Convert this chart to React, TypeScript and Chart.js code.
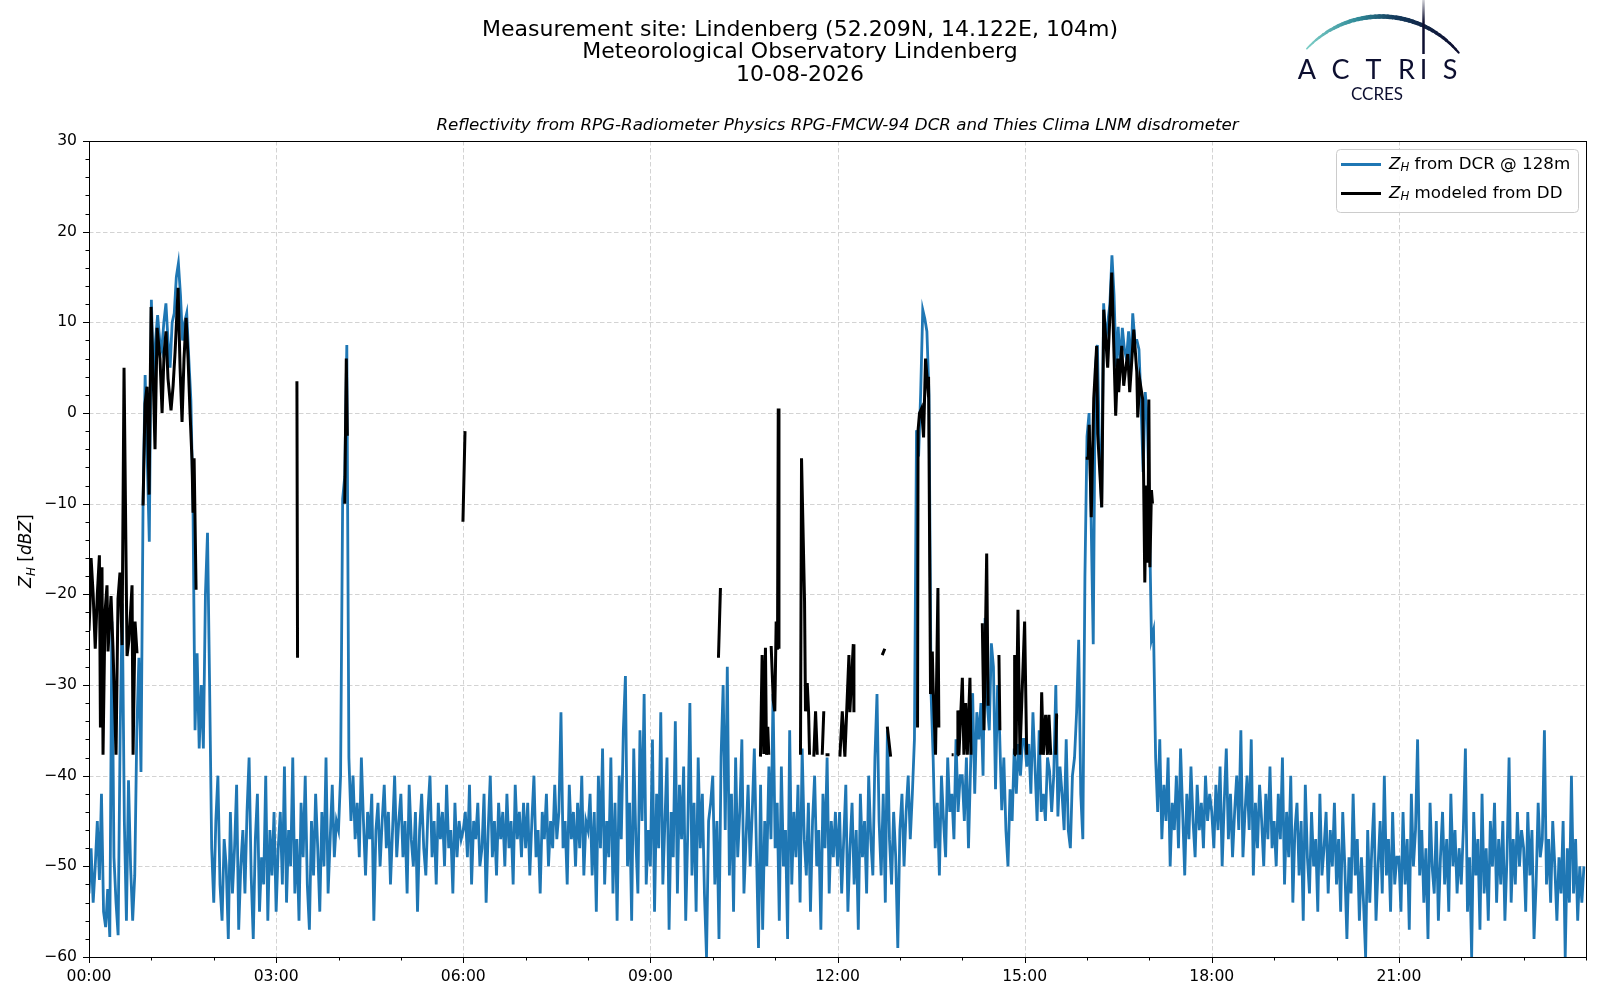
import { useEffect, useRef } from 'react';
import { Chart, registerables } from 'chart.js';

Chart.register(...registerables);

// ---- DATA ----
const titleLines = [
  'Measurement site: Lindenberg (52.209N, 14.122E, 104m)',
  'Meteorological Observatory Lindenberg',
  '10-08-2026',
];
const subTitle = 'Reflectivity from RPG-Radiometer Physics RPG-FMCW-94 DCR and Thies Clima LNM disdrometer';

// DCR reflectivity, one value every 2 minutes from 00:00 (30 values per hour)
const dcrStepMinutes = 2;
const dcrZh: number[] = [
  -53, -48, -54, -50, -45, -51.5, -42, -55, -56.7, -52.5, -57.8, -23, -49, -54, -57.6, -35, -21, -45, -56, -40.5, -50, -56, -51, -35, -27, -39.6, -10, 4.2, -5, -14.2, // 00h
  12.5, 3, 8, 10.8, 8, 7, 10, 12.1, 8, 5, 10, 11, 15, 16.5, 13, 8, 10, 11, 6, 1.4, -10, -35, -26.5, -37, -30, -37, -20, -13.2, -30, -48, // 01h
  -54, -45, -40, -52, -56, -47, -50, -58, -44, -53, -48, -41, -57, -50, -46, -53, -44, -38, -51, -58, -47, -42, -55, -49, -52, -40, -56, -46, -51, -44, // 02h
  -55, -48, -44, -52, -39, -54, -46, -50, -38, -53, -47, -56, -43, -49, -40, -52, -57, -45, -51, -42, -48, -55, -44, -50, -38, -53, -47, -41, -49, -45, // 03h
  -46, -40, -9.5, -7, 7.5, -38, -45, -40, -47, -43, -49, -38, -45, -51, -44, -47, -42, -56, -46, -43, -50, -45, -41, -48, -44, -52, -46, -40, -49, -45, // 04h
  -42, -49, -45, -53, -41, -47, -50, -44, -55, -46, -42, -48, -51, -44, -40, -49, -45, -52, -43, -47, -44, -50, -41, -48, -46, -53, -43, -49, -45, -47, // 05h
  -46, -44, -49, -41, -52, -45, -47, -43, -50, -48, -42, -54, -46, -40, -49, -45, -51, -43, -47, -44, -50, -42, -48, -45, -52, -41, -47, -44, -49, -43, // 06h
  -48, -43, -51, -45, -40, -49, -46, -53, -44, -47, -42, -50, -45, -48, -41, -47, -44, -33, -48, -45, -52, -41, -47, -44, -50, -43, -48, -40, -51, -45, // 07h
  -46, -42, -51, -44, -55, -40, -48, -37, -52, -45, -49, -38, -53, -43, -56, -40, -47, -35, -29, -50, -43, -56, -37, -47, -53, -35, -45, -31, -52, -46, // 08h
  -50, -36, -55, -42, -48, -33, -52, -45, -38, -57, -44, -49, -34, -53, -41, -47, -39, -56, -46, -32, -51, -43, -55, -38, -48, -42, -53, -60, -45, -43, // 09h
  -40, -52, -45, -58, -38, -30, -46, -28, -51, -42, -55, -38, -49, -44, -36, -53, -47, -41, -50, -44, -37, -48, -59, -41, -57, -45, -50, -39, -47, -31, // 10h
  -48, -43, -56, -39, -50, -46, -58, -35, -52, -44, -49, -41, -54, -37, -47, -51, -43, -55, -45, -40, -50, -46, -57, -42, -48, -38, -53, -45, -49, -44, // 11h
  -50, -44, -53, -47, -41, -55, -48, -43, -52, -46, -57, -42, -49, -45, -53, -40, -47, -51, -38, -31, -45, -51, -42, -54, -35, -47, -52, -44, -49, -59, // 12h
  -46, -42, -50, -44, -40, -47, -42, -36, -1.9, -4.8, 2.2, 11.4, 10.4, 9, 2, -30.9, -38, -48, -43, -51, -40, -45, -49, -38, -44, -42, -47, -36, -44, -40, // 13h
  -40, -45, -38, -48, -39, -30.9, -42, -33, -36, -32, -40, -22.6, -32, -35, -25.4, -28, -41.5, -30, -35.5, -43.8, -38, -46, -50, -41.5, -45, -37, -42, -36.5, -40, -36, // 14h
  -36, -39, -36.5, -42, -33, -39, -45, -35, -44, -42, -45, -38, -39.5, -44, -40, -30, -44.5, -39, -42, -46, -36, -46, -48, -40, -38, -33, -25, -42, -47, -18, // 15h
  -2.6, 0, -12, -25.5, 5, 7.5, -4, -10.4, 12.1, 8, 10, 12, 17.4, 13, 5.1, 9.5, 5, 9.4, 7, 6, 9, 4.5, 11, 8, 8, 7, 1, -6.5, 2.3, -0.5, // 16h
  -11.3, -25, -24, -38, -44, -36, -47, -41, -45, -38, -50, -43, -46, -40, -48, -37, -44, -51, -42, -47, -39, -45, -49, -41, -46, -43, -48, -40, -45, -42, // 17h
  -44, -48, -41, -46, -39, -50, -43, -37, -47, -42, -49, -44, -40, -46, -35, -49, -44, -40, -46, -36, -51, -43, -48, -41, -45, -50, -42, -47, -39, -48, // 18h
  -45, -50, -42, -47, -38, -52, -44, -49, -40, -54, -46, -43, -51, -45, -56, -41, -49, -53, -44, -50, -47, -55, -42, -51, -48, -44, -53, -46, -50, -43, // 19h
  -52, -47, -55, -44, -50, -58, -49, -53, -42, -51, -47, -56, -49, -54, -60, -46, -54, -48, -43, -56, -50, -45, -53, -40, -51, -47, -55, -44, -52, -49, // 20h
  -49, -55, -44, -52, -47, -57, -42, -50, -46, -36, -51, -46, -54, -48, -58, -43, -50, -53, -45, -56, -49, -44, -52, -47, -55, -42, -50, -46, -53, -48, // 21h
  -52, -46, -37, -55, -49, -60, -44, -51, -47, -57, -42, -53, -48, -56, -45, -50, -43, -54, -47, -52, -45, -56, -49, -38, -54, -47, -52, -44, -50, -46, // 22h
  -48, -55, -44, -51, -46, -58, -52, -43, -49, -47, -35, -52, -47, -54, -45, -50, -56, -49, -53, -45, -60, -48, -54, -40, -53, -47, -56, -50, -54, -50, // 23h
];

// Disdrometer-modelled reflectivity: minutes since 00:00 and values (null = gap)
const ddMinutes: number[] = [
  0, 1, 2, 4, 6, 8, 10, 11, 12.5, 13.5, 15.4, 17.3, 18.3, 21.2, 23.1, 26, 27.9, 29.8, 31.8, 33.7, 36.6, 38.5, 41.4, 42.4, 44.3, 46.2, 48,
  52, 53.9, 55.8, 57.8, 59.7, 61.6, 63.5, 65.5, 68.3, 70.3, 72.2, 74.1, 76, 78.9, 80.9, 82.8, 85.7, 87.6, 89.5, 91.4, 93.4, 95.3, 97.2, 99.1, 100.1, 101.1, 103, 104,
  200, 200.6, 202,
  246, 247.5, 248.5, 251,
  359.7, 361.7, 363,
  605.5, 607.4, 609,
  645.9, 647.5, 649.1, 650.7, 651.7, 652.9, 653.9, 655,
  656.2, 658.2, 659.7, 661.0, 662.3, 663.0, 663.7, 665,
  684.4, 685.4, 688.3, 689.2, 690.9, 692.2, 693.1, 694,
  697.2, 698.9, 700.5, 702,
  705.3, 706.8, 708,
  708.5, 712.3, 714,
  722.3, 724.6, 727.1, 731, 731.9, 735.2, 735.8, 737,
  763.0, 765.5, 766,
  767.9, 771.1, 780,
  797, 797.5, 798.9, 800.8, 802.8, 804.7, 806.6, 807.6, 809.5, 811.2, 812.1, 814.3, 816.6, 817.5, 819,
  829.8, 831.7, 833,
  835.2, 835.8, 836.8, 840.1, 841.6, 843.3, 844.9, 847.4, 848.4, 850,
  859.3, 860.9, 863.5, 864.9, 866,
  875.3, 876.2, 878,
  889.8, 890.4, 891.7, 893.6, 895.5, 900, 902, 904,
  915.4, 916.4, 918, 920.2, 921.9, 923.4, 925.1, 927,
  929.9, 930.8, 932.1, 934,
  958.8, 961.2, 962.1, 964.1, 966.5, 969.3, 970.3, 974.2, 976.1, 979.9, 983.8, 987.6, 989.6, 990.5, 993.4, 995.3, 997.3, 999.2, 1001.1,
  1005, 1007.9, 1008.8, 1010.8, 1013.6, 1015.6, 1017, 1018.5, 1019.5, 1020.5, 1022, 1023,
];
const ddZh: (number | null)[] = [
  -24, -21, -16, -20, -26, -20, -15.7, -34.7, -17, -37.7, -22, -19, -26.3, -20.2, -26, -37.7, -20.5, -17.6, -25.6, 5, -26.8, -25, -19, -37.7, -23, -26.5, null,
  -10.2, 1, 2.9, -9, 11.7, 4.6, -4, 9.4, 6, 0, 6.6, 9, 3.8, 0.3, 3, 6.7, 13.8, 5, -1, 6, 10.5, 6, 0, -5.2, -11, -5, -19.5, null,
  3.5, -27, null,
  -10, 6, -2.5, null,
  -12, -2, null,
  -27, -19.3, null,
  -37.9, -26.7, -37.6, -25.9, -37.7, -34.6, -37.7, null,
  -25.7, -31.7, -32.9, -23, -26.1, 0.5, -26, null,
  -37.7, -5, -20.8, -32.9, -29.8, -33, -37.7, null,
  -37.9, -32.9, -37.7, null,
  -37.7, -32.9, null,
  -37.7, -37.7, null,
  -37.9, -32.9, -37.9, -26.7, -33, -25.5, -33, null,
  -26.7, -26, null,
  -34.6, -37.9, null,
  -34.7, -1.9, 0, 0.5, -2.7, 6, 3.2, 4, -31, -26.3, -30.7, -37.7, -19.3, -34.7, null,
  -37.7, -37.7, null,
  -37.7, -32.8, -37.7, -29.2, -37.7, -32, -37.7, -29.2, -37.7, null,
  -23.2, -35, -15.5, -32.3, null,
  -26.7, -35, null,
  -37.7, -26.7, -37.7, -21.7, -37.7, -23, -37.7, null,
  -37.7, -30.8, -37.7, -33.3, -37.7, -33.3, -37.7, null,
  -37.7, -33.3, -33.3, null,
  -5, -5, -1.3, -11.5, 1.6, 7.4, -2.3, -10.4, 11.4, 5, 15.5, -0.3, 6, 2.3, 7.4, 3, 5, 6.5, 2.3,
  9.2, 4.5, -0.5, 3.6, 1.5, -18.7, -8, -16.5, 1.5, -17, -8.5, -10,
];

const xTickMinutes = [0, 180, 360, 540, 720, 900, 1080, 1260];
const xTickLabels = ['00:00', '03:00', '06:00', '09:00', '12:00', '15:00', '18:00', '21:00'];
const yTickValues = [-60, -50, -40, -30, -20, -10, 0, 10, 20, 30];
const legendLabels = [' from DCR @ 128m', ' modeled from DD'];

const BLUE = '#1f77b4';
const FONT = '"DejaVu Sans", sans-serif';

type Run = { t: string; it?: boolean; sub?: boolean };

function drawRuns(ctx: CanvasRenderingContext2D, runs: Run[], x: number, y: number, size: number, align: 'left' | 'center') {
  const fontOf = (r: Run) => `${r.it ? 'italic ' : ''}${r.sub ? size * 0.7 : size}px ${FONT}`;
  const widths = runs.map((r) => {
    ctx.font = fontOf(r);
    return ctx.measureText(r.t).width;
  });
  const total = widths.reduce((a, b) => a + b, 0);
  let cx = align === 'center' ? x - total / 2 : x;
  ctx.textAlign = 'left';
  runs.forEach((r, i) => {
    ctx.font = fontOf(r);
    ctx.fillText(r.t, cx, r.sub ? y + size * 0.22 : y);
    cx += widths[i];
  });
}

const decorPlugin = {
  id: 'decor',
  beforeDatasetsDraw(chart: any) {
    const { ctx, chartArea: a, scales } = chart;
    const xs = scales.x;
    const ys = scales.y;
    ctx.save();
    ctx.strokeStyle = '#d3d3d3';
    ctx.lineWidth = 1;
    ctx.setLineDash([4.5, 2.5]);
    yTickValues.forEach((v) => {
      const py = Math.round(ys.getPixelForValue(v)) + 0.5;
      if (py <= a.top + 1 || py >= a.bottom - 1) return;
      ctx.beginPath();
      ctx.moveTo(a.left, py);
      ctx.lineTo(a.right, py);
      ctx.stroke();
    });
    xTickMinutes.forEach((m) => {
      const px = Math.round(xs.getPixelForValue(m)) + 0.5;
      if (px <= a.left + 1 || px >= a.right - 1) return;
      ctx.beginPath();
      ctx.moveTo(px, a.top);
      ctx.lineTo(px, a.bottom);
      ctx.stroke();
    });
    ctx.restore();
  },
  afterDraw(chart: any) {
    const { ctx, chartArea: a, scales } = chart;
    const xs = scales.x;
    const ys = scales.y;
    ctx.save();
    // frame
    ctx.strokeStyle = '#000';
    ctx.lineWidth = 1;
    ctx.setLineDash([]);
    ctx.strokeRect(Math.round(a.left) + 0.5, Math.round(a.top) + 0.5, Math.round(a.right - a.left), Math.round(a.bottom - a.top));
    // ticks
    ctx.beginPath();
    for (let v = -60; v <= 30; v += 2) {
      const py = Math.round(ys.getPixelForValue(v)) + 0.5;
      const len = v % 10 === 0 ? 6 : 3.5;
      ctx.moveTo(a.left, py);
      ctx.lineTo(a.left - len, py);
    }
    for (let m = 0; m <= 1440; m += 60) {
      const px = Math.round(xs.getPixelForValue(m)) + 0.5;
      const len = m % 180 === 0 && m < 1440 ? 6 : 3.5;
      ctx.moveTo(px, a.bottom);
      ctx.lineTo(px, a.bottom + len);
    }
    ctx.stroke();

    // titles
    ctx.fillStyle = '#000';
    ctx.textAlign = 'center';
    ctx.textBaseline = 'middle';
    ctx.font = `22px ${FONT}`;
    titleLines.forEach((t, i) => ctx.fillText(t, 800, 30 + i * 22.4));
    ctx.font = `italic 16.7px ${FONT}`;
    ctx.fillText(subTitle, (a.left + a.right) / 2, 125.5);

    // y label
    ctx.save();
    ctx.translate(31, 551);
    ctx.rotate(-Math.PI / 2);
    ctx.textBaseline = 'alphabetic';
    drawRuns(ctx, [{ t: 'Z', it: true }, { t: 'H', it: true, sub: true }, { t: ' [' }, { t: 'dBZ', it: true }, { t: ']' }], 0, 0, 17, 'center');
    ctx.restore();

    // legend
    const lx = 1336.5, ly = 149.5, lw = 242, lh = 63;
    ctx.beginPath();
    ctx.roundRect(lx, ly, lw, lh, 4);
    ctx.fillStyle = 'rgba(255,255,255,0.85)';
    ctx.fill();
    ctx.strokeStyle = '#cccccc';
    ctx.lineWidth = 1;
    ctx.stroke();
    const rows = [{ c: BLUE, y: 164.5 }, { c: '#000', y: 193.5 }];
    rows.forEach((r, i) => {
      ctx.strokeStyle = r.c;
      ctx.lineWidth = 2.8;
      ctx.beginPath();
      ctx.moveTo(1341, r.y);
      ctx.lineTo(1381, r.y);
      ctx.stroke();
      ctx.fillStyle = '#000';
      ctx.textBaseline = 'middle';
      drawRuns(ctx, [{ t: 'Z', it: true }, { t: 'H', it: true, sub: true }, { t: legendLabels[i] }], 1389, r.y, 16.7, 'left');
    });

    // logo
    const cx = 1381, cy = 118, R = 101.5;
    const a0 = -2.39, a1 = -0.70;
    const grad = ctx.createLinearGradient(1305, 0, 1455, 0);
    grad.addColorStop(0, '#7fd0c8');
    grad.addColorStop(0.35, '#2f8a98');
    grad.addColorStop(0.6, '#143a5c');
    grad.addColorStop(1, '#0d0f30');
    ctx.strokeStyle = grad;
    ctx.lineCap = 'round';
    const N = 40;
    for (let k = 0; k < N; k++) {
      const t0 = a0 + ((a1 - a0) * k) / N;
      const t1 = a0 + ((a1 - a0) * (k + 1)) / N;
      const f = (k + 0.5) / N;
      ctx.lineWidth = 1 + 3.5 * Math.sin(Math.PI * Math.min(1, f * 0.85 + 0.05));
      ctx.beginPath();
      ctx.arc(cx, cy, R, t0, t1);
      ctx.stroke();
    }
    const vg = ctx.createLinearGradient(0, 0, 0, 55);
    vg.addColorStop(0, 'rgba(13,15,48,0.2)');
    vg.addColorStop(0.4, '#0d0f30');
    vg.addColorStop(1, '#0d0f30');
    ctx.strokeStyle = vg;
    ctx.lineWidth = 2.5;
    ctx.lineCap = 'butt';
    ctx.beginPath();
    ctx.moveTo(1423.5, 0);
    ctx.lineTo(1423.5, 54);
    ctx.stroke();

    ctx.fillStyle = '#0d0f30';
    ctx.textAlign = 'center';
    ctx.textBaseline = 'alphabetic';
    ctx.font = '27px Lato, "Open Sans", sans-serif';
    const letters = ['A', 'C', 'T', 'R', 'I', 'S'];
    const lxs = [1307, 1340.5, 1373.5, 1406.5, 1423.5, 1450];
    letters.forEach((L, i) => ctx.fillText(L, lxs[i], 79));
    ctx.font = '17px Lato, "Open Sans", sans-serif';
    ctx.fillText('CCRES', 1377, 99.5);
    ctx.restore();
  },
};

export default function App() {
  const ref = useRef<HTMLCanvasElement | null>(null);

  useEffect(() => {
    if (!ref.current) return;
    const blueData = dcrZh.map((v, i) => ({ x: i * dcrStepMinutes, y: v }));
    const blackData = ddMinutes.map((m, i) => ({ x: m, y: ddZh[i] }));
    const chart = new Chart(ref.current, {
      type: 'line',
      data: {
        datasets: [
          {
            label: 'ZH from DCR @ 128m',
            data: blueData as any,
            borderColor: BLUE,
            borderWidth: 2.8,
            pointRadius: 0,
            tension: 0,
            order: 2,
            spanGaps: false,
          },
          {
            label: 'ZH modeled from DD',
            data: blackData as any,
            borderColor: '#000',
            borderWidth: 3,
            pointRadius: 0,
            tension: 0,
            order: 1,
            spanGaps: false,
          },
        ],
      },
      options: {
        responsive: false,
        animation: false,
        devicePixelRatio: 1,
        layout: { padding: { top: 141, right: 14, left: 0, bottom: 0 } },
        plugins: { legend: { display: false }, tooltip: { enabled: false }, title: { display: false } },
        scales: {
          x: {
            type: 'linear',
            min: 0,
            max: 1440,
            afterFit: (s: any) => {
              s.height = 43;
            },
            afterBuildTicks: (s: any) => {
              s.ticks = xTickMinutes.map((v) => ({ value: v }));
            },
            grid: { display: false, drawTicks: false },
            border: { display: false },
            ticks: {
              autoSkip: false,
              maxRotation: 0,
              padding: 11,
              color: '#000',
              font: { family: FONT, size: 15.6 },
              callback: (v: any) => xTickLabels[xTickMinutes.indexOf(Number(v))] ?? '',
            },
          },
          y: {
            min: -60,
            max: 30,
            afterFit: (s: any) => {
              s.width = 89;
            },
            afterBuildTicks: (s: any) => {
              s.ticks = yTickValues.map((v) => ({ value: v }));
            },
            grid: { display: false, drawTicks: false },
            border: { display: false },
            ticks: {
              padding: 12,
              color: '#000',
              font: { family: FONT, size: 15.6 },
              callback: (v: any) => (Number(v) < 0 ? '\u2212' + Math.abs(Number(v)) : String(v)),
            },
          },
        },
      },
      plugins: [decorPlugin],
    });
    return () => chart.destroy();
  }, []);

  return (
    <div style={{ position: 'fixed', left: 0, top: 0, width: 1600, height: 1000, background: '#fff' }}>
      <canvas ref={ref} width={1600} height={1000} style={{ width: 1600, height: 1000, display: 'block' }} />
    </div>
  );
}
